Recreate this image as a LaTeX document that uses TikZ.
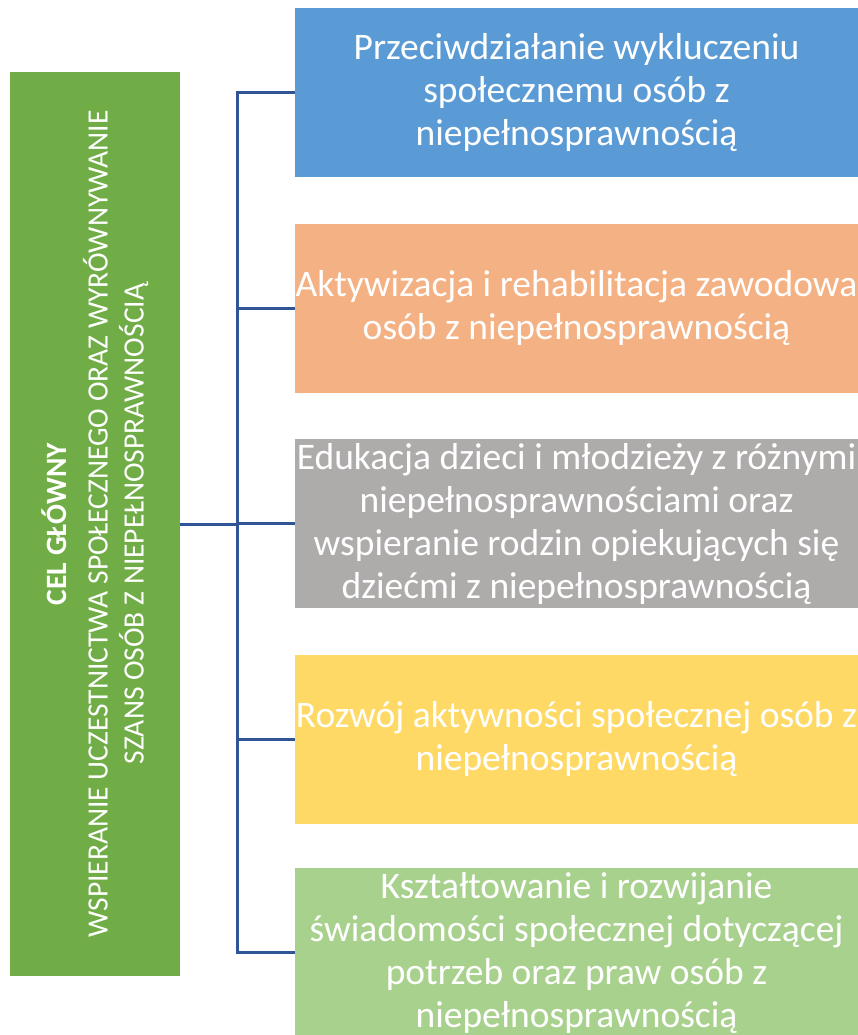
\documentclass[tikz,border=0pt]{standalone}
\usepackage{fontspec}
\setmainfont{Carlito}
\usepackage{tikz}
\usetikzlibrary{
	calc,
	positioning
}
\definecolor{celGreen}{HTML}{70AD47}
\definecolor{goalBlue}{HTML}{5B9BD5}
\definecolor{goalOrange}{HTML}{F4B183}
\definecolor{goalGray}{HTML}{AEABAB}
\definecolor{goalYellow}{HTML}{FFD966}
\definecolor{goalLight}{HTML}{A9D18E}
\definecolor{connBlue}{HTML}{2F5597}
\tikzset{
	goal/.style={rectangle,inner sep=0pt,minimum width=563pt,minimum height=169pt,
		align=center,text=white,font=\fontsize{37.5}{43}\selectfont},
	celbox/.style={rectangle,fill=celGreen,inner sep=0pt,minimum width=170pt,minimum height=904pt},
	conn/.style={draw=connBlue,line width=3pt}
}
\newcommand{\tikzGoal}[4]{\node (#2) at #1 [goal,fill=#3]{#4};}

\begin{document}
\begin{tikzpicture}[x=1pt,y=-1pt]
	\useasboundingbox (0,0) rectangle (858,1035);
	
	\node (cel) at (95,524) [celbox]{};
	\node (celtext) at (cel.center) [rotate=90,align=center,text=white,
		font=\fontsize{29.5}{36}\selectfont]
		{\textbf{CEL GŁÓWNY}\\[5pt]
		WSPIERANIE UCZESTNICTWA SPOŁECZNEGO ORAZ WYRÓWNYWANIE\\
		SZANS OSÓB Z NIEPEŁNOSPRAWNOŚCIĄ};
	
	\tikzGoal{(576.5,92.5)}{g1}{goalBlue}{Przeciwdziałanie wykluczeniu\\społecznemu osób z\\niepełnosprawnością}
	\tikzGoal{(576.5,308)}{g2}{goalOrange}{Aktywizacja i rehabilitacja zawodowa\\osób z niepełnosprawnością}
	\tikzGoal{(576.5,523.5)}{g3}{goalGray}{Edukacja dzieci i młodzieży z różnymi\\niepełnosprawnościami oraz\\wspieranie rodzin opiekujących się\\dziećmi z niepełnosprawnością}
	\tikzGoal{(576.5,739)}{g4}{goalYellow}{Rozwój aktywności społecznej osób z\\niepełnosprawnością}
	\tikzGoal{(576.5,952.5)}{g5}{goalLight}{Kształtowanie i rozwijanie\\świadomości społecznej dotyczącej\\potrzeb oraz praw osób z\\niepełnosprawnością}
	
	\coordinate (spine) at (237,0);
	
	\draw[conn] (g1.west) -| (spine |- g5.west) -- (g5.west);
	\draw[conn] (g2.west) -- (g2.west -| spine);
	\draw[conn] (g3.west) -- (g3.west -| spine);
	\draw[conn] (g4.west) -- (g4.west -| spine);
	\draw[conn] (cel.east) -- (cel.east -| spine);
\end{tikzpicture}
\end{document}
